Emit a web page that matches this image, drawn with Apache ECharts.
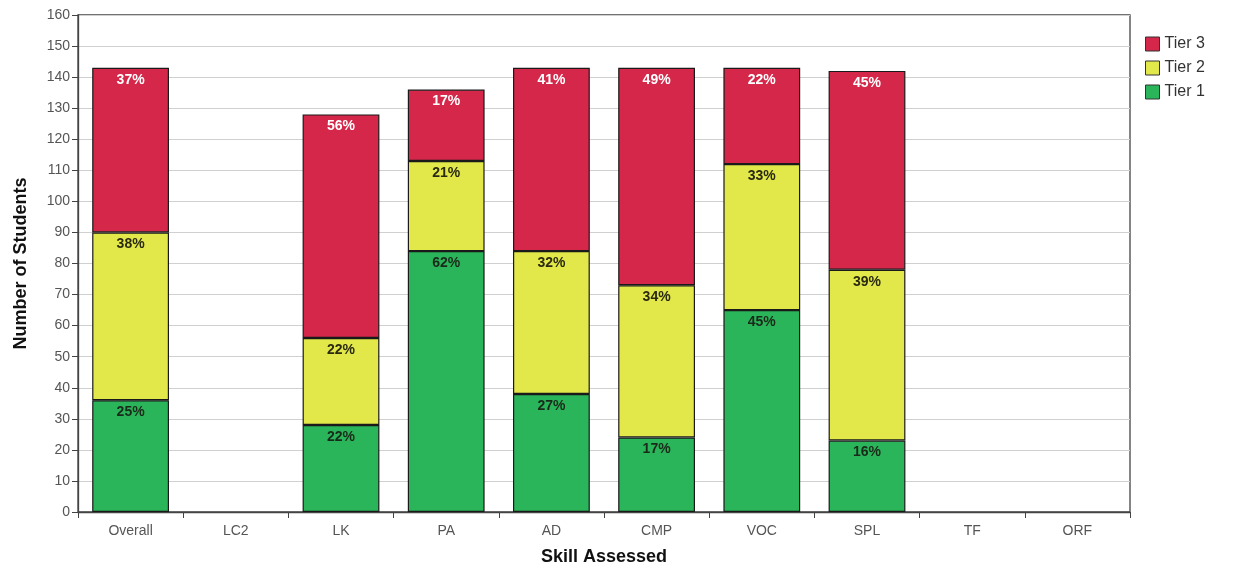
<!DOCTYPE html>
<html><head><meta charset="utf-8">
<script src="https://cdn.jsdelivr.net/npm/echarts@6/dist/echarts.min.js"></script>
<style>html,body{margin:0;padding:0;background:#fff}#c{width:1248px;height:573px}</style>
</head><body><div id="c"></div>
<script>
const categories = ['Overall','LC2','LK','PA','AD','CMP','VOC','SPL','TF','ORF'];
const tier1 = [36, null, 28, 84, 38, 24, 65, 23, null, null];
const tier2 = [54, null, 28, 29, 46, 49, 47, 55, null, null];
const tier3 = [53, null, 72, 23, 59, 70, 31, 64, null, null];
const yTicks = {min: 0, max: 160, interval: 10};

const totals = categories.map((c, i) => (tier1[i] || 0) + (tier2[i] || 0) + (tier3[i] || 0));
function pct(p) {
  const t = totals[p.dataIndex];
  if (!t || p.value == null) return '';
  return Math.round(p.value / t * 100) + '%';
}
const font = 'Arial, "Liberation Sans", sans-serif';
function mk(name, data, color, labelColor) {
  return {
    name, type: 'bar', stack: 'all', data, barWidth: '73%',
    itemStyle: {color, borderColor: '#1a1a1a', borderWidth: 1.2},
    label: {show: true, position: 'insideTop', distance: 5, formatter: pct,
      color: labelColor, fontWeight: 'bold', fontSize: 14, fontFamily: font},
    emphasis: {disabled: true}
  };
}
const chart = echarts.init(document.getElementById('c'));
chart.setOption({
  animation: false,
  backgroundColor: '#fff',
  grid: {left: 78, right: 118, top: 15, bottom: 61, show: true, borderColor: '#444', borderWidth: 1.3},
  legend: {
    orient: 'vertical', left: 1140, top: 31, itemWidth: 14, itemHeight: 14, itemGap: 8,
    icon: 'rect',
    data: ['Tier 3', 'Tier 2', 'Tier 1'],
    textStyle: {fontSize: 16, color: '#333', fontFamily: font},
    itemStyle: {borderColor: '#333', borderWidth: 1}
  },
  xAxis: {
    type: 'category', data: categories,
    name: 'Skill Assessed', nameLocation: 'middle', nameGap: 36,
    nameTextStyle: {fontSize: 18, fontWeight: 'bold', color: '#111', fontFamily: font},
    axisLine: {lineStyle: {color: '#444', width: 1.3}},
    axisTick: {show: true, alignWithLabel: false, length: 6, lineStyle: {color: '#444'}},
    axisLabel: {fontSize: 14, color: '#555', margin: 12, fontFamily: font}
  },
  yAxis: {
    type: 'value', min: yTicks.min, max: yTicks.max, interval: yTicks.interval,
    name: 'Number of Students', nameLocation: 'middle', nameGap: 48, nameRotate: 90,
    nameTextStyle: {fontSize: 18, fontWeight: 'bold', color: '#111', fontFamily: font},
    axisLine: {show: true, lineStyle: {color: '#444', width: 1.3}},
    axisTick: {show: true, length: 6, lineStyle: {color: '#444'}},
    axisLabel: {fontSize: 14, color: '#555', margin: 8, fontFamily: font},
    splitLine: {lineStyle: {color: '#d0d0d0', width: 1.2}}
  },
  series: [
    mk('Tier 1', tier1, '#2bb55a', '#1a2a1a'),
    mk('Tier 2', tier2, '#e2e84a', '#2a2a10'),
    mk('Tier 3', tier3, '#d4274a', '#ffffff')
  ]
});
</script></body></html>
